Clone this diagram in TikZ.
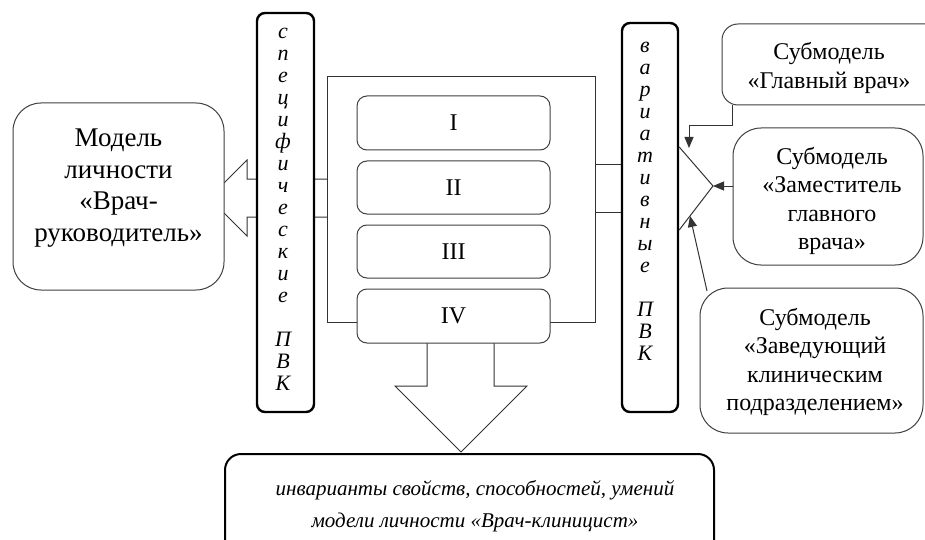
\documentclass[tikz,border=0pt]{standalone}
\usepackage{fontspec}
\setmainfont{Liberation Serif}
\usetikzlibrary{arrows.meta,calc}
\begin{document}
\begin{tikzpicture}[x=1pt,y=-1pt,
  ln/.style={draw=black!80,line width=1pt},
  arr/.style={-{Triangle[length=11pt,width=9pt]}},
  pvk/.style={draw=black,line width=2.4pt,rounded corners=8pt,fill=white,inner sep=0pt},
  stage/.style={draw=black!75,line width=1pt,rounded corners=10pt,fill=white,inner sep=0pt,
    minimum width=193pt,font=\fontsize{24}{28}\selectfont},
  sub/.style={draw=black!75,line width=1pt,fill=white,inner sep=0pt},
  bodytext/.style={align=center,inner sep=0pt,font=\fontsize{24}{28.3}\selectfont},
  vert/.style={align=center,inner sep=0pt,anchor=north,font=\fontsize{22}{22}\selectfont\itshape}
]
\clip (0,0) rectangle (925,540);
\fill[white] (0,0) rectangle (925,540);

% hollow arrow to the left (drawn under the boxes)
\draw[ln] (327,179) -- (247,179) -- (247,160) -- (209,198) -- (247,236) -- (247,217) -- (327,217);
% links to the right column
\draw[ln] (595,165) -- (622,165);
\draw[ln] (595,212) -- (622,212);
% hollow arrow down
\draw[ln] (427,343) -- (427,386) -- (395,386) -- (461,452) -- (527,386) -- (494,386) -- (494,343);

% central frame and stages
\node[ln,draw,minimum width=268pt,minimum height=245pt,inner sep=0pt] (frame) at (461,199.5) {};
\node[stage,minimum height=54pt] (s1) at (453.5,123) {I};
\node[stage,minimum height=53pt] (s2) at (453.5,187.5) {II};
\node[stage,minimum height=53pt] (s3) at (453.5,251.5) {III};
\node[stage,minimum height=54pt] (s4) at (453.5,316) {IV};

% PVK columns
\node[pvk,minimum width=57pt,minimum height=399pt] (lp) at (285.5,212.5) {};
\node[vert] (lpt) at (283,28) {с\\п\\е\\ц\\и\\ф\\и\\ч\\е\\с\\к\\и\\е\\[22pt]П\\В\\К};
\node[pvk,minimum width=56pt,minimum height=389pt] (rp) at (650,217.5) {};
\node[vert] (rpt) at (645,42) {в\\а\\р\\и\\а\\т\\и\\в\\н\\ы\\е\\[22pt]П\\В\\К};

% V shape at the right column
\coordinate (vt) at (713,186);
\draw[ln] (rp.east |- 0,147) -- (vt) -- (rp.east |- 0,230);

% left model
\node[sub,rounded corners=28pt,minimum width=211pt,minimum height=187pt] (lm) at (118.5,196.5) {};
\node[bodytext,font=\fontsize{27}{31.5}\selectfont] (lmt) at (118.5,188) {Модель\\личности\\«Врач-\\руководитель»};

% submodels
\node[sub,rounded corners=16pt,minimum width=233pt,minimum height=81pt] (gv) at (838.5,64.5) {};
\node[bodytext] (gvt) at (829,68) {Субмодель\\«Главный врач»};
\node[sub,rounded corners=28pt,minimum width=190pt,minimum height=137pt] (zam) at (828,196.5) {};
\node[bodytext] (zamt) at (832,201) {Субмодель\\«Заместитель\\главного\\врача»};
\node[sub,rounded corners=28pt,minimum width=223pt,minimum height=145pt] (zav) at (811.5,360.5) {};
\node[bodytext] (zavt) at (815,362) {Субмодель\\«Заведующий\\клиническим\\подразделением»};

% bottom result
\node[draw=black,line width=2pt,rounded corners=16pt,fill=white,minimum width=489pt,minimum height=102pt,inner sep=0pt] (res) at (469.5,505) {};
\node[bodytext,font=\fontsize{21}{32}\selectfont\itshape] (rest) at (475,506) {инварианты свойств, способностей, умений\\модели личности «Врач-клиницист»};

% connectors
\coordinate (gvout) at ($(gv.south west)+(11,0)$);
\coordinate (gvin) at (689,148);
\draw[ln,arr] (gvout) |- (689,126) -- (gvin);
\draw[ln,arr] (zam.west |- vt) -- (vt);
\coordinate (zavout) at (707,291);
\coordinate (zavin) at (690,216);
\draw[ln,arr] (zavout) -- (zavin);
\end{tikzpicture}
\end{document}
